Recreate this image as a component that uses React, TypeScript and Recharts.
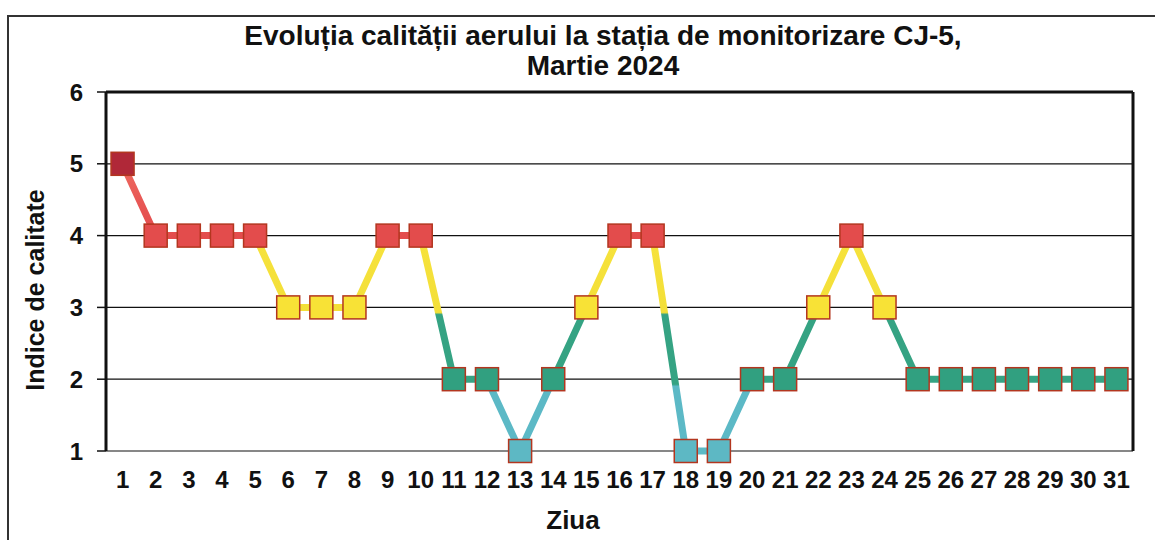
import React from 'react';
import {
  LineChart, Line, XAxis, YAxis, CartesianGrid, ReferenceLine
} from 'recharts';

const days = [1, 2, 3, 4, 5, 6, 7, 8, 9, 10, 11, 12, 13, 14, 15, 16, 17, 18, 19, 20, 21, 22, 23, 24, 25, 26, 27, 28, 29, 30, 31];
const indexValues = [5, 4, 4, 4, 4, 3, 3, 3, 4, 4, 2, 2, 1, 2, 3, 4, 4, 1, 1, 2, 2, 3, 4, 3, 2, 2, 2, 2, 2, 2, 2];
const yTicks = [1, 2, 3, 4, 5, 6];

const titleLines = ['Evoluția calității aerului la stația de monitorizare CJ-5,', 'Martie 2024'];
const xTitle = 'Ziua';
const yTitle = 'Indice de calitate';

// marker fill per quality index
const markerColors: { [k: number]: string } = {
  1: '#5db8c4',
  2: '#31a080',
  3: '#f8e236',
  4: '#e34c4c',
  5: '#b02838',
};

const FONT = '"Liberation Sans", Arial, sans-serif';

const data = days.map((d, i) => ({ day: d, value: indexValues[i] }));
const edgeTicks = days.map(d => d - 0.5).concat(days[days.length - 1] + 0.5);

// gradient runs over the path bbox: top = max value, bottom = min value
const vMax = Math.max(...indexValues);
const vMin = Math.min(...indexValues);
const off = (v: number) => `${((vMax - v) / (vMax - vMin)) * 100}%`;

const SquareDot = (props: any) => {
  const { cx, cy, payload } = props;
  if (cx == null || cy == null) return null;
  const s = 23;
  return (
    <rect
      x={cx - s / 2}
      y={cy - s / 2}
      width={s}
      height={s}
      fill={markerColors[payload.value]}
      stroke="#b3361f"
      strokeWidth={1.5}
    />
  );
};

const App = () => {
  return (
    <div style={{ position: 'absolute', left: 0, top: 0, width: 1155, height: 540, overflow: 'hidden', background: '#fff', fontFamily: FONT }}>
      <div style={{ position: 'absolute', left: 7, top: 15, width: 1200, height: 600, border: '2px solid #333' }} />
      <div style={{ position: 'absolute', left: 0, top: 21, width: 1206, textAlign: 'center', fontWeight: 'bold', fontSize: 28, lineHeight: '30px', color: '#111' }}>
        {titleLines.map(t => <div key={t}>{t}</div>)}
      </div>
      <div style={{ position: 'absolute', left: 0, top: 505, width: 1146, textAlign: 'center', fontWeight: 'bold', fontSize: 26, color: '#111' }}>
        {xTitle}
      </div>
      <div style={{ position: 'absolute', left: 35, top: 290, transform: 'translate(-50%, -50%) rotate(-90deg)', whiteSpace: 'nowrap', fontWeight: 'bold', fontSize: 25, color: '#111' }}>
        {yTitle}
      </div>
      <div style={{ position: 'absolute', left: 0, top: 0 }}>
        <LineChart width={1155} height={540} data={data} margin={{ top: 92, right: 22, bottom: 49, left: 46 }}>
          <defs>
            <linearGradient id="aqGrad" x1="0" y1="0" x2="0" y2="1">
              <stop offset={off(5)} stopColor="#ee6a60" />
              <stop offset={off(4.3)} stopColor="#e65252" />
              <stop offset={off(3.93)} stopColor="#e34c4c" />
              <stop offset={off(3.9)} stopColor="#f6e23c" />
              <stop offset={off(2.93)} stopColor="#f3df38" />
              <stop offset={off(2.9)} stopColor="#35a383" />
              <stop offset={off(1.93)} stopColor="#35a383" />
              <stop offset={off(1.9)} stopColor="#5cb9c6" />
              <stop offset={off(1)} stopColor="#5cb9c6" />
            </linearGradient>
          </defs>
          <CartesianGrid vertical={false} stroke="#111" strokeWidth={1.2} />
          <XAxis
            xAxisId="edges"
            type="number"
            dataKey="day"
            domain={[0.5, 31.5]}
            ticks={edgeTicks}
            tick={false}
            height={0}
            tickSize={7}
            tickLine={{ stroke: '#111', strokeWidth: 1.5 }}
            axisLine={{ stroke: '#111', strokeWidth: 3 }}
          />
          <XAxis
            xAxisId="labels"
            type="number"
            dataKey="day"
            domain={[0.5, 31.5]}
            ticks={days}
            interval={0}
            height={40}
            tickLine={false}
            axisLine={false}
            tickMargin={14}
            tick={{ fill: '#111', fontSize: 24, fontWeight: 'bold', fontFamily: FONT }}
          />
          <YAxis
            type="number"
            domain={[1, 6]}
            ticks={yTicks}
            width={60}
            tickSize={9}
            tickMargin={14}
            tickLine={{ stroke: '#111', strokeWidth: 1.5 }}
            axisLine={{ stroke: '#111', strokeWidth: 3 }}
            tick={{ fill: '#111', fontSize: 24, fontWeight: 'bold', fontFamily: FONT }}
          />
          <ReferenceLine xAxisId="edges" y={6} stroke="#111" strokeWidth={3} />
          <ReferenceLine xAxisId="edges" x={31.5} stroke="#111" strokeWidth={3} />
          <Line
            xAxisId="edges"
            type="linear"
            dataKey="value"
            stroke="url(#aqGrad)"
            strokeWidth={7}
            dot={<SquareDot />}
            activeDot={false}
            isAnimationActive={false}
          />
        </LineChart>
      </div>
    </div>
  );
};

export default App;
